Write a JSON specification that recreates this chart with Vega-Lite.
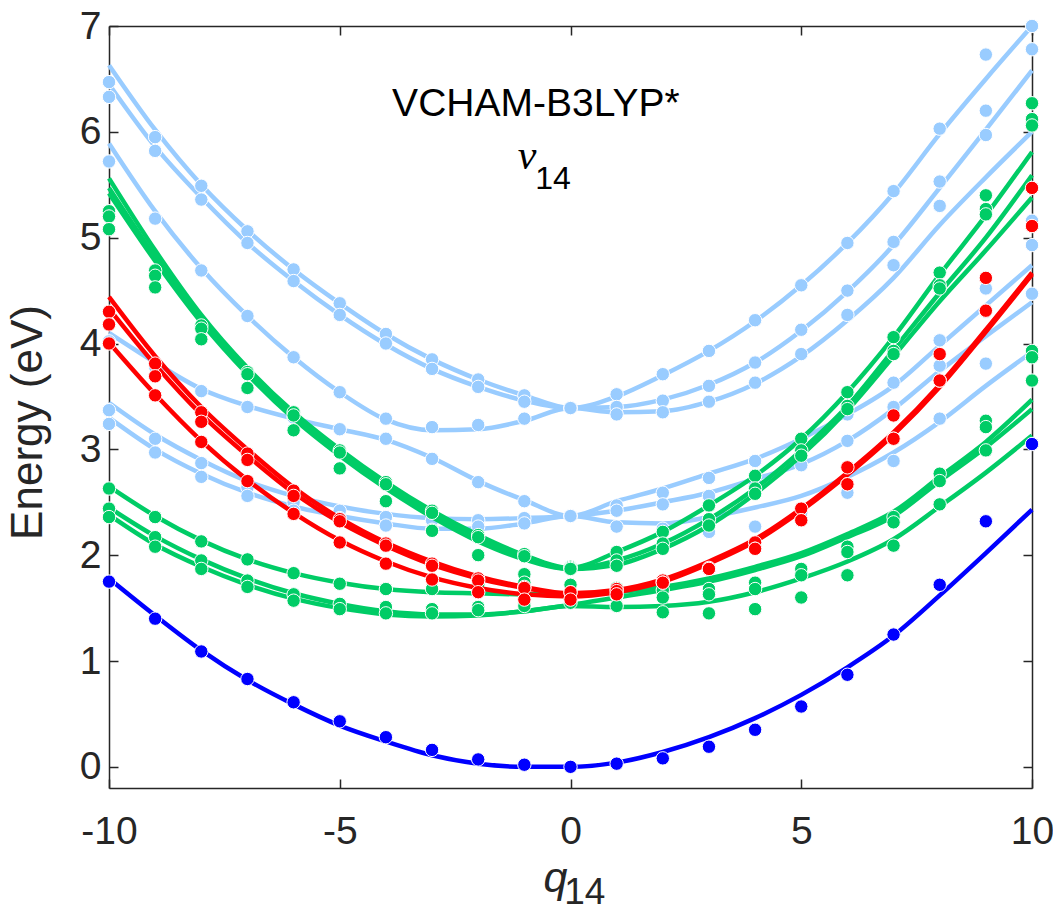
{
"$schema":"https://vega.github.io/schema/vega-lite/v6.json",
"width":923,"height":762,"autosize":"none",
"padding":{"left":109,"top":26,"right":21,"bottom":125},
"background":"white",
"config":{"view":{"stroke":null},"font":"Liberation Sans"},
"datasets":{
"L":[
{"c":"B1","q":-10,"e":6.63},{"c":"B1","q":-9,"e":6.02},{"c":"B1","q":-8,"e":5.50},{"c":"B1","q":-7,"e":5.07},{"c":"B1","q":-6,"e":4.70},{"c":"B1","q":-5,"e":4.38},{"c":"B1","q":-4,"e":4.09},{"c":"B1","q":-3,"e":3.85},{"c":"B1","q":-2,"e":3.66},{"c":"B1","q":-1,"e":3.51},{"c":"B1","q":0,"e":3.39},{"c":"B1","q":1,"e":3.50},{"c":"B1","q":2,"e":3.70},{"c":"B1","q":3,"e":3.93},{"c":"B1","q":4,"e":4.21},{"c":"B1","q":5,"e":4.55},{"c":"B1","q":6,"e":4.95},{"c":"B1","q":7,"e":5.42},{"c":"B1","q":8,"e":5.98},{"c":"B1","q":9,"e":6.50},{"c":"B1","q":10,"e":7.00},
{"c":"B2","q":-10,"e":6.45},{"c":"B2","q":-9,"e":5.86},{"c":"B2","q":-8,"e":5.38},{"c":"B2","q":-7,"e":4.95},{"c":"B2","q":-6,"e":4.59},{"c":"B2","q":-5,"e":4.27},{"c":"B2","q":-4,"e":3.99},{"c":"B2","q":-3,"e":3.76},{"c":"B2","q":-2,"e":3.59},{"c":"B2","q":-1,"e":3.46},{"c":"B2","q":0,"e":3.39},{"c":"B2","q":1,"e":3.40},{"c":"B2","q":2,"e":3.47},{"c":"B2","q":3,"e":3.61},{"c":"B2","q":4,"e":3.82},{"c":"B2","q":5,"e":4.12},{"c":"B2","q":6,"e":4.49},{"c":"B2","q":7,"e":4.93},{"c":"B2","q":8,"e":5.47},{"c":"B2","q":9,"e":6.02},{"c":"B2","q":10,"e":6.58},
{"c":"B3","q":-10,"e":5.89},{"c":"B3","q":-9,"e":5.25},{"c":"B3","q":-8,"e":4.71},{"c":"B3","q":-7,"e":4.26},{"c":"B3","q":-6,"e":3.87},{"c":"B3","q":-5,"e":3.54},{"c":"B3","q":-4,"e":3.28},{"c":"B3","q":-3,"e":3.18},{"c":"B3","q":-2,"e":3.19},{"c":"B3","q":-1,"e":3.27},{"c":"B3","q":0,"e":3.39},{"c":"B3","q":1,"e":3.35},{"c":"B3","q":2,"e":3.36},{"c":"B3","q":3,"e":3.45},{"c":"B3","q":4,"e":3.62},{"c":"B3","q":5,"e":3.88},{"c":"B3","q":6,"e":4.22},{"c":"B3","q":7,"e":4.62},{"c":"B3","q":8,"e":5.12},{"c":"B3","q":9,"e":5.57},{"c":"B3","q":10,"e":6.00},
{"c":"B4","q":-10,"e":4.10},{"c":"B4","q":-9,"e":3.82},{"c":"B4","q":-8,"e":3.57},{"c":"B4","q":-7,"e":3.41},{"c":"B4","q":-6,"e":3.29},{"c":"B4","q":-5,"e":3.19},{"c":"B4","q":-4,"e":3.09},{"c":"B4","q":-3,"e":2.92},{"c":"B4","q":-2,"e":2.70},{"c":"B4","q":-1,"e":2.52},{"c":"B4","q":0,"e":2.37},{"c":"B4","q":1,"e":2.51},{"c":"B4","q":2,"e":2.63},{"c":"B4","q":3,"e":2.77},{"c":"B4","q":4,"e":2.91},{"c":"B4","q":5,"e":3.10},{"c":"B4","q":6,"e":3.33},{"c":"B4","q":7,"e":3.60},{"c":"B4","q":8,"e":3.98},{"c":"B4","q":9,"e":4.36},{"c":"B4","q":10,"e":4.74},
{"c":"B5","q":-10,"e":3.44},{"c":"B5","q":-9,"e":3.14},{"c":"B5","q":-8,"e":2.90},{"c":"B5","q":-7,"e":2.70},{"c":"B5","q":-6,"e":2.56},{"c":"B5","q":-5,"e":2.46},{"c":"B5","q":-4,"e":2.39},{"c":"B5","q":-3,"e":2.35},{"c":"B5","q":-2,"e":2.34},{"c":"B5","q":-1,"e":2.35},{"c":"B5","q":0,"e":2.37},{"c":"B5","q":1,"e":2.42},{"c":"B5","q":2,"e":2.50},{"c":"B5","q":3,"e":2.59},{"c":"B5","q":4,"e":2.72},{"c":"B5","q":5,"e":2.86},{"c":"B5","q":6,"e":3.08},{"c":"B5","q":7,"e":3.38},{"c":"B5","q":8,"e":3.74},{"c":"B5","q":9,"e":4.07},{"c":"B5","q":10,"e":4.39},
{"c":"B6","q":-10,"e":3.30},{"c":"B6","q":-9,"e":3.00},{"c":"B6","q":-8,"e":2.77},{"c":"B6","q":-7,"e":2.59},{"c":"B6","q":-6,"e":2.46},{"c":"B6","q":-5,"e":2.37},{"c":"B6","q":-4,"e":2.30},{"c":"B6","q":-3,"e":2.25},{"c":"B6","q":-2,"e":2.25},{"c":"B6","q":-1,"e":2.30},{"c":"B6","q":0,"e":2.37},{"c":"B6","q":1,"e":2.31},{"c":"B6","q":2,"e":2.30},{"c":"B6","q":3,"e":2.36},{"c":"B6","q":4,"e":2.45},{"c":"B6","q":5,"e":2.56},{"c":"B6","q":6,"e":2.74},{"c":"B6","q":7,"e":2.97},{"c":"B6","q":8,"e":3.26},{"c":"B6","q":9,"e":3.60},{"c":"B6","q":10,"e":3.92},
{"c":"G1","q":-10,"e":5.56},{"c":"G1","q":-9,"e":4.88},{"c":"G1","q":-8,"e":4.27},{"c":"G1","q":-7,"e":3.77},{"c":"G1","q":-6,"e":3.35},{"c":"G1","q":-5,"e":3.00},{"c":"G1","q":-4,"e":2.69},{"c":"G1","q":-3,"e":2.42},{"c":"G1","q":-2,"e":2.19},{"c":"G1","q":-1,"e":2.00},{"c":"G1","q":0,"e":1.88},{"c":"G1","q":1,"e":2.03},{"c":"G1","q":2,"e":2.22},{"c":"G1","q":3,"e":2.47},{"c":"G1","q":4,"e":2.75},{"c":"G1","q":5,"e":3.10},{"c":"G1","q":6,"e":3.54},{"c":"G1","q":7,"e":4.06},{"c":"G1","q":8,"e":4.65},{"c":"G1","q":9,"e":5.21},{"c":"G1","q":10,"e":5.81},
{"c":"G2","q":-10,"e":5.47},{"c":"G2","q":-9,"e":4.82},{"c":"G2","q":-8,"e":4.23},{"c":"G2","q":-7,"e":3.74},{"c":"G2","q":-6,"e":3.32},{"c":"G2","q":-5,"e":2.98},{"c":"G2","q":-4,"e":2.67},{"c":"G2","q":-3,"e":2.40},{"c":"G2","q":-2,"e":2.17},{"c":"G2","q":-1,"e":1.99},{"c":"G2","q":0,"e":1.87},{"c":"G2","q":1,"e":1.95},{"c":"G2","q":2,"e":2.11},{"c":"G2","q":3,"e":2.34},{"c":"G2","q":4,"e":2.63},{"c":"G2","q":5,"e":2.99},{"c":"G2","q":6,"e":3.41},{"c":"G2","q":7,"e":3.94},{"c":"G2","q":8,"e":4.48},{"c":"G2","q":9,"e":5.00},{"c":"G2","q":10,"e":5.59},
{"c":"G3","q":-10,"e":5.42},{"c":"G3","q":-9,"e":4.78},{"c":"G3","q":-8,"e":4.20},{"c":"G3","q":-7,"e":3.71},{"c":"G3","q":-6,"e":3.29},{"c":"G3","q":-5,"e":2.94},{"c":"G3","q":-4,"e":2.63},{"c":"G3","q":-3,"e":2.36},{"c":"G3","q":-2,"e":2.13},{"c":"G3","q":-1,"e":1.96},{"c":"G3","q":0,"e":1.87},{"c":"G3","q":1,"e":1.91},{"c":"G3","q":2,"e":2.06},{"c":"G3","q":3,"e":2.28},{"c":"G3","q":4,"e":2.58},{"c":"G3","q":5,"e":2.94},{"c":"G3","q":6,"e":3.37},{"c":"G3","q":7,"e":3.88},{"c":"G3","q":8,"e":4.40},{"c":"G3","q":9,"e":4.88},{"c":"G3","q":10,"e":5.38},
{"c":"L1","q":-10,"e":2.65},{"c":"L1","q":-9,"e":2.37},{"c":"L1","q":-8,"e":2.14},{"c":"L1","q":-7,"e":1.96},{"c":"L1","q":-6,"e":1.83},{"c":"L1","q":-5,"e":1.74},{"c":"L1","q":-4,"e":1.68},{"c":"L1","q":-3,"e":1.65},{"c":"L1","q":-2,"e":1.64},{"c":"L1","q":-1,"e":1.63},{"c":"L1","q":0,"e":1.63},{"c":"L1","q":1,"e":1.65},{"c":"L1","q":2,"e":1.70},{"c":"L1","q":3,"e":1.78},{"c":"L1","q":4,"e":1.89},{"c":"L1","q":5,"e":2.02},{"c":"L1","q":6,"e":2.20},{"c":"L1","q":7,"e":2.41},{"c":"L1","q":8,"e":2.74},{"c":"L1","q":9,"e":3.07},{"c":"L1","q":10,"e":3.47},
{"c":"L2","q":-10,"e":2.45},{"c":"L2","q":-9,"e":2.18},{"c":"L2","q":-8,"e":1.96},{"c":"L2","q":-7,"e":1.78},{"c":"L2","q":-6,"e":1.64},{"c":"L2","q":-5,"e":1.54},{"c":"L2","q":-4,"e":1.47},{"c":"L2","q":-3,"e":1.44},{"c":"L2","q":-2,"e":1.44},{"c":"L2","q":-1,"e":1.47},{"c":"L2","q":0,"e":1.53},{"c":"L2","q":1,"e":1.60},{"c":"L2","q":2,"e":1.67},{"c":"L2","q":3,"e":1.75},{"c":"L2","q":4,"e":1.86},{"c":"L2","q":5,"e":1.99},{"c":"L2","q":6,"e":2.17},{"c":"L2","q":7,"e":2.37},{"c":"L2","q":8,"e":2.70},{"c":"L2","q":9,"e":3.02},{"c":"L2","q":10,"e":3.38},
{"c":"L3","q":-10,"e":2.38},{"c":"L3","q":-9,"e":2.10},{"c":"L3","q":-8,"e":1.89},{"c":"L3","q":-7,"e":1.72},{"c":"L3","q":-6,"e":1.59},{"c":"L3","q":-5,"e":1.50},{"c":"L3","q":-4,"e":1.44},{"c":"L3","q":-3,"e":1.42},{"c":"L3","q":-2,"e":1.43},{"c":"L3","q":-1,"e":1.47},{"c":"L3","q":0,"e":1.52},{"c":"L3","q":1,"e":1.51},{"c":"L3","q":2,"e":1.52},{"c":"L3","q":3,"e":1.56},{"c":"L3","q":4,"e":1.65},{"c":"L3","q":5,"e":1.78},{"c":"L3","q":6,"e":1.94},{"c":"L3","q":7,"e":2.15},{"c":"L3","q":8,"e":2.46},{"c":"L3","q":9,"e":2.78},{"c":"L3","q":10,"e":3.13},
{"c":"R1","q":-10,"e":4.44},{"c":"R1","q":-9,"e":3.88},{"c":"R1","q":-8,"e":3.40},{"c":"R1","q":-7,"e":3.00},{"c":"R1","q":-6,"e":2.64},{"c":"R1","q":-5,"e":2.35},{"c":"R1","q":-4,"e":2.12},{"c":"R1","q":-3,"e":1.94},{"c":"R1","q":-2,"e":1.80},{"c":"R1","q":-1,"e":1.70},{"c":"R1","q":0,"e":1.64},{"c":"R1","q":1,"e":1.67},{"c":"R1","q":2,"e":1.77},{"c":"R1","q":3,"e":1.94},{"c":"R1","q":4,"e":2.15},{"c":"R1","q":5,"e":2.44},{"c":"R1","q":6,"e":2.78},{"c":"R1","q":7,"e":3.16},{"c":"R1","q":8,"e":3.61},{"c":"R1","q":9,"e":4.13},{"c":"R1","q":10,"e":4.67},
{"c":"R2","q":-10,"e":4.33},{"c":"R2","q":-9,"e":3.80},{"c":"R2","q":-8,"e":3.33},{"c":"R2","q":-7,"e":2.94},{"c":"R2","q":-6,"e":2.59},{"c":"R2","q":-5,"e":2.31},{"c":"R2","q":-4,"e":2.09},{"c":"R2","q":-3,"e":1.91},{"c":"R2","q":-2,"e":1.78},{"c":"R2","q":-1,"e":1.69},{"c":"R2","q":0,"e":1.63},{"c":"R2","q":1,"e":1.66},{"c":"R2","q":2,"e":1.76},{"c":"R2","q":3,"e":1.93},{"c":"R2","q":4,"e":2.14},{"c":"R2","q":5,"e":2.43},{"c":"R2","q":6,"e":2.77},{"c":"R2","q":7,"e":3.15},{"c":"R2","q":8,"e":3.60},{"c":"R2","q":9,"e":4.12},{"c":"R2","q":10,"e":4.66},
{"c":"R3","q":-10,"e":4.01},{"c":"R3","q":-9,"e":3.52},{"c":"R3","q":-8,"e":3.08},{"c":"R3","q":-7,"e":2.71},{"c":"R3","q":-6,"e":2.40},{"c":"R3","q":-5,"e":2.14},{"c":"R3","q":-4,"e":1.94},{"c":"R3","q":-3,"e":1.79},{"c":"R3","q":-2,"e":1.69},{"c":"R3","q":-1,"e":1.63},{"c":"R3","q":0,"e":1.61},{"c":"R3","q":1,"e":1.65},{"c":"R3","q":2,"e":1.75},{"c":"R3","q":3,"e":1.92},{"c":"R3","q":4,"e":2.13},{"c":"R3","q":5,"e":2.42},{"c":"R3","q":6,"e":2.76},{"c":"R3","q":7,"e":3.14},{"c":"R3","q":8,"e":3.59},{"c":"R3","q":9,"e":4.11},{"c":"R3","q":10,"e":4.65},
{"c":"K","q":-10,"e":1.78},{"c":"K","q":-9,"e":1.43},{"c":"K","q":-8,"e":1.10},{"c":"K","q":-7,"e":0.82},{"c":"K","q":-6,"e":0.59},{"c":"K","q":-5,"e":0.39},{"c":"K","q":-4,"e":0.24},{"c":"K","q":-3,"e":0.11},{"c":"K","q":-2,"e":0.03},{"c":"K","q":-1,"e":0.00},{"c":"K","q":0,"e":0.00},{"c":"K","q":1,"e":0.04},{"c":"K","q":2,"e":0.14},{"c":"K","q":3,"e":0.28},{"c":"K","q":4,"e":0.46},{"c":"K","q":5,"e":0.68},{"c":"K","q":6,"e":0.94},{"c":"K","q":7,"e":1.24},{"c":"K","q":8,"e":1.62},{"c":"K","q":9,"e":2.02},{"c":"K","q":10,"e":2.43}
],
"P":[
{"c":"pa","q":-10,"e":6.47},{"c":"pa","q":-9,"e":5.95},{"c":"pa","q":-8,"e":5.49},{"c":"pa","q":-7,"e":5.06},{"c":"pa","q":-6,"e":4.70},{"c":"pa","q":-5,"e":4.38},{"c":"pa","q":-4,"e":4.09},{"c":"pa","q":-3,"e":3.85},{"c":"pa","q":-2,"e":3.66},{"c":"pa","q":-1,"e":3.51},{"c":"pa","q":0,"e":3.39},{"c":"pa","q":1,"e":3.52},{"c":"pa","q":2,"e":3.71},{"c":"pa","q":3,"e":3.93},{"c":"pa","q":4,"e":4.22},{"c":"pa","q":5,"e":4.55},{"c":"pa","q":6,"e":4.95},{"c":"pa","q":7,"e":5.44},{"c":"pa","q":8,"e":6.03},{"c":"pa","q":9,"e":6.73},
{"c":"pb","q":-10,"e":6.33},{"c":"pb","q":-9,"e":5.82},{"c":"pb","q":-8,"e":5.36},{"c":"pb","q":-7,"e":4.95},{"c":"pb","q":-6,"e":4.59},{"c":"pb","q":-5,"e":4.27},{"c":"pb","q":-4,"e":4.00},{"c":"pb","q":-3,"e":3.76},{"c":"pb","q":-2,"e":3.59},{"c":"pb","q":-1,"e":3.45},{"c":"pb","q":0,"e":3.39},{"c":"pb","q":1,"e":3.40},{"c":"pb","q":2,"e":3.46},{"c":"pb","q":3,"e":3.60},{"c":"pb","q":4,"e":3.82},{"c":"pb","q":5,"e":4.13},{"c":"pb","q":6,"e":4.50},{"c":"pb","q":7,"e":4.96},{"c":"pb","q":8,"e":5.53},{"c":"pb","q":9,"e":6.20},{"c":"pb","q":10,"e":7.00},
{"c":"pc","q":-10,"e":5.72},{"c":"pc","q":-9,"e":5.18},{"c":"pc","q":-8,"e":4.69},{"c":"pc","q":-7,"e":4.26},{"c":"pc","q":-6,"e":3.87},{"c":"pc","q":-5,"e":3.54},{"c":"pc","q":-4,"e":3.29},{"c":"pc","q":-3,"e":3.21},{"c":"pc","q":-2,"e":3.23},{"c":"pc","q":-1,"e":3.29},{"c":"pc","q":0,"e":3.39},{"c":"pc","q":1,"e":3.33},{"c":"pc","q":2,"e":3.35},{"c":"pc","q":3,"e":3.45},{"c":"pc","q":4,"e":3.63},{"c":"pc","q":5,"e":3.90},{"c":"pc","q":6,"e":4.27},{"c":"pc","q":7,"e":4.74},{"c":"pc","q":8,"e":5.30},{"c":"pc","q":9,"e":5.97},{"c":"pc","q":10,"e":6.78},
{"c":"pd","q":-10,"e":4.02},{"c":"pd","q":-9,"e":3.78},{"c":"pd","q":-8,"e":3.55},{"c":"pd","q":-7,"e":3.40},{"c":"pd","q":-6,"e":3.30},{"c":"pd","q":-5,"e":3.19},{"c":"pd","q":-4,"e":3.10},{"c":"pd","q":-3,"e":2.91},{"c":"pd","q":-2,"e":2.69},{"c":"pd","q":-1,"e":2.51},{"c":"pd","q":0,"e":2.37},{"c":"pd","q":1,"e":2.47},{"c":"pd","q":2,"e":2.59},{"c":"pd","q":3,"e":2.73},{"c":"pd","q":4,"e":2.89},{"c":"pd","q":5,"e":3.08},{"c":"pd","q":6,"e":3.33},{"c":"pd","q":7,"e":3.63},{"c":"pd","q":8,"e":4.03},{"c":"pd","q":9,"e":4.52},{"c":"pd","q":10,"e":5.16},
{"c":"pe","q":-10,"e":3.37},{"c":"pe","q":-9,"e":3.10},{"c":"pe","q":-8,"e":2.87},{"c":"pe","q":-7,"e":2.64},{"c":"pe","q":-6,"e":2.50},{"c":"pe","q":-5,"e":2.42},{"c":"pe","q":-4,"e":2.36},{"c":"pe","q":-3,"e":2.33},{"c":"pe","q":-2,"e":2.33},{"c":"pe","q":-1,"e":2.35},{"c":"pe","q":0,"e":2.37},{"c":"pe","q":1,"e":2.42},{"c":"pe","q":2,"e":2.48},{"c":"pe","q":3,"e":2.56},{"c":"pe","q":4,"e":2.68},{"c":"pe","q":5,"e":2.85},{"c":"pe","q":6,"e":3.08},{"c":"pe","q":7,"e":3.40},{"c":"pe","q":8,"e":3.79},{"c":"pe","q":9,"e":4.30},{"c":"pe","q":10,"e":4.93},
{"c":"pf","q":-10,"e":3.24},{"c":"pf","q":-9,"e":2.97},{"c":"pf","q":-8,"e":2.74},{"c":"pf","q":-7,"e":2.56},{"c":"pf","q":-6,"e":2.42},{"c":"pf","q":-5,"e":2.35},{"c":"pf","q":-4,"e":2.28},{"c":"pf","q":-3,"e":2.24},{"c":"pf","q":-2,"e":2.27},{"c":"pf","q":-1,"e":2.30},{"c":"pf","q":0,"e":2.37},{"c":"pf","q":1,"e":2.27},{"c":"pf","q":2,"e":2.25},{"c":"pf","q":3,"e":2.22},{"c":"pf","q":4,"e":2.27},{"c":"pf","q":5,"e":2.40},{"c":"pf","q":6,"e":2.59},{"c":"pf","q":7,"e":2.89},{"c":"pf","q":8,"e":3.29},{"c":"pf","q":9,"e":3.81},{"c":"pf","q":10,"e":4.47},
{"c":"pg1","q":-10,"e":5.25},{"c":"pg1","q":-9,"e":4.69},{"c":"pg1","q":-8,"e":4.17},{"c":"pg1","q":-7,"e":3.73},{"c":"pg1","q":-6,"e":3.35},{"c":"pg1","q":-5,"e":2.99},{"c":"pg1","q":-4,"e":2.69},{"c":"pg1","q":-3,"e":2.42},{"c":"pg1","q":-2,"e":2.19},{"c":"pg1","q":-1,"e":2.01},{"c":"pg1","q":0,"e":1.89},{"c":"pg1","q":1,"e":2.03},{"c":"pg1","q":2,"e":2.22},{"c":"pg1","q":3,"e":2.47},{"c":"pg1","q":4,"e":2.75},{"c":"pg1","q":5,"e":3.10},{"c":"pg1","q":6,"e":3.54},{"c":"pg1","q":7,"e":4.06},{"c":"pg1","q":8,"e":4.67},{"c":"pg1","q":9,"e":5.40},{"c":"pg1","q":10,"e":6.27},
{"c":"pg2","q":-10,"e":5.20},{"c":"pg2","q":-9,"e":4.64},{"c":"pg2","q":-8,"e":4.14},{"c":"pg2","q":-7,"e":3.71},{"c":"pg2","q":-6,"e":3.32},{"c":"pg2","q":-5,"e":2.97},{"c":"pg2","q":-4,"e":2.67},{"c":"pg2","q":-3,"e":2.40},{"c":"pg2","q":-2,"e":2.17},{"c":"pg2","q":-1,"e":1.99},{"c":"pg2","q":0,"e":1.88},{"c":"pg2","q":1,"e":1.95},{"c":"pg2","q":2,"e":2.11},{"c":"pg2","q":3,"e":2.34},{"c":"pg2","q":4,"e":2.63},{"c":"pg2","q":5,"e":2.99},{"c":"pg2","q":6,"e":3.41},{"c":"pg2","q":7,"e":3.93},{"c":"pg2","q":8,"e":4.55},{"c":"pg2","q":9,"e":5.27},{"c":"pg2","q":10,"e":6.12},
{"c":"pg3","q":-10,"e":5.08},{"c":"pg3","q":-9,"e":4.53},{"c":"pg3","q":-8,"e":4.04},{"c":"pg3","q":-7,"e":3.58},{"c":"pg3","q":-6,"e":3.18},{"c":"pg3","q":-5,"e":2.82},{"c":"pg3","q":-4,"e":2.51},{"c":"pg3","q":-3,"e":2.23},{"c":"pg3","q":-2,"e":2.00},{"c":"pg3","q":-1,"e":1.82},{"c":"pg3","q":0,"e":1.87},{"c":"pg3","q":1,"e":1.90},{"c":"pg3","q":2,"e":2.06},{"c":"pg3","q":3,"e":2.28},{"c":"pg3","q":4,"e":2.58},{"c":"pg3","q":5,"e":2.94},{"c":"pg3","q":6,"e":3.38},{"c":"pg3","q":7,"e":3.90},{"c":"pg3","q":8,"e":4.52},{"c":"pg3","q":9,"e":5.22},{"c":"pg3","q":10,"e":6.06},
{"c":"pl1","q":-10,"e":2.63},{"c":"pl1","q":-9,"e":2.36},{"c":"pl1","q":-8,"e":2.13},{"c":"pl1","q":-7,"e":1.96},{"c":"pl1","q":-6,"e":1.83},{"c":"pl1","q":-5,"e":1.73},{"c":"pl1","q":-4,"e":1.68},{"c":"pl1","q":-3,"e":1.68},{"c":"pl1","q":-2,"e":1.72},{"c":"pl1","q":-1,"e":1.74},{"c":"pl1","q":0,"e":1.72},{"c":"pl1","q":1,"e":1.69},{"c":"pl1","q":2,"e":1.67},{"c":"pl1","q":3,"e":1.68},{"c":"pl1","q":4,"e":1.74},{"c":"pl1","q":5,"e":1.87},{"c":"pl1","q":6,"e":2.08},{"c":"pl1","q":7,"e":2.36},{"c":"pl1","q":8,"e":2.77},{"c":"pl1","q":9,"e":3.27},{"c":"pl1","q":10,"e":3.93},
{"c":"pl2","q":-10,"e":2.44},{"c":"pl2","q":-9,"e":2.17},{"c":"pl2","q":-8,"e":1.95},{"c":"pl2","q":-7,"e":1.76},{"c":"pl2","q":-6,"e":1.63},{"c":"pl2","q":-5,"e":1.54},{"c":"pl2","q":-4,"e":1.51},{"c":"pl2","q":-3,"e":1.49},{"c":"pl2","q":-2,"e":1.51},{"c":"pl2","q":-1,"e":1.54},{"c":"pl2","q":0,"e":1.58},{"c":"pl2","q":1,"e":1.62},{"c":"pl2","q":2,"e":1.60},{"c":"pl2","q":3,"e":1.63},{"c":"pl2","q":4,"e":1.68},{"c":"pl2","q":5,"e":1.81},{"c":"pl2","q":6,"e":2.03},{"c":"pl2","q":7,"e":2.31},{"c":"pl2","q":8,"e":2.70},{"c":"pl2","q":9,"e":3.21},{"c":"pl2","q":10,"e":3.87},
{"c":"pl3","q":-10,"e":2.36},{"c":"pl3","q":-9,"e":2.08},{"c":"pl3","q":-8,"e":1.87},{"c":"pl3","q":-7,"e":1.70},{"c":"pl3","q":-6,"e":1.57},{"c":"pl3","q":-5,"e":1.49},{"c":"pl3","q":-4,"e":1.45},{"c":"pl3","q":-3,"e":1.45},{"c":"pl3","q":-2,"e":1.48},{"c":"pl3","q":-1,"e":1.52},{"c":"pl3","q":0,"e":1.55},{"c":"pl3","q":1,"e":1.52},{"c":"pl3","q":2,"e":1.46},{"c":"pl3","q":3,"e":1.45},{"c":"pl3","q":4,"e":1.49},{"c":"pl3","q":5,"e":1.60},{"c":"pl3","q":6,"e":1.81},{"c":"pl3","q":7,"e":2.09},{"c":"pl3","q":8,"e":2.48},{"c":"pl3","q":9,"e":2.99},{"c":"pl3","q":10,"e":3.65},
{"c":"pr1","q":-10,"e":4.30},{"c":"pr1","q":-9,"e":3.81},{"c":"pr1","q":-8,"e":3.35},{"c":"pr1","q":-7,"e":2.96},{"c":"pr1","q":-6,"e":2.61},{"c":"pr1","q":-5,"e":2.34},{"c":"pr1","q":-4,"e":2.11},{"c":"pr1","q":-3,"e":1.92},{"c":"pr1","q":-2,"e":1.78},{"c":"pr1","q":-1,"e":1.70},{"c":"pr1","q":0,"e":1.65},{"c":"pr1","q":1,"e":1.68},{"c":"pr1","q":2,"e":1.76},{"c":"pr1","q":3,"e":1.88},{"c":"pr1","q":4,"e":2.12},{"c":"pr1","q":5,"e":2.44},{"c":"pr1","q":6,"e":2.83},{"c":"pr1","q":7,"e":3.32},{"c":"pr1","q":8,"e":3.90},{"c":"pr1","q":9,"e":4.62},{"c":"pr1","q":10,"e":5.47},
{"c":"pr2","q":-10,"e":4.18},{"c":"pr2","q":-9,"e":3.69},{"c":"pr2","q":-8,"e":3.26},{"c":"pr2","q":-7,"e":2.90},{"c":"pr2","q":-6,"e":2.56},{"c":"pr2","q":-5,"e":2.32},{"c":"pr2","q":-4,"e":2.09},{"c":"pr2","q":-3,"e":1.90},{"c":"pr2","q":-2,"e":1.76},{"c":"pr2","q":-1,"e":1.69},{"c":"pr2","q":0,"e":1.65},{"c":"pr2","q":1,"e":1.66},{"c":"pr2","q":2,"e":1.74},{"c":"pr2","q":3,"e":1.87},{"c":"pr2","q":4,"e":2.06},{"c":"pr2","q":5,"e":2.33},{"c":"pr2","q":6,"e":2.67},{"c":"pr2","q":7,"e":3.10},{"c":"pr2","q":8,"e":3.65},{"c":"pr2","q":9,"e":4.31},{"c":"pr2","q":10,"e":5.11},
{"c":"pr3","q":-10,"e":4.00},{"c":"pr3","q":-9,"e":3.51},{"c":"pr3","q":-8,"e":3.07},{"c":"pr3","q":-7,"e":2.70},{"c":"pr3","q":-6,"e":2.39},{"c":"pr3","q":-5,"e":2.12},{"c":"pr3","q":-4,"e":1.92},{"c":"pr3","q":-3,"e":1.77},{"c":"pr3","q":-2,"e":1.65},{"c":"pr3","q":-1,"e":1.58},{"c":"pr3","q":0,"e":1.58},{"c":"pr3","q":1,"e":1.63},{"c":"pr3","q":2,"e":1.74},{"c":"pr3","q":3,"e":1.87},{"c":"pr3","q":4,"e":2.06},{"c":"pr3","q":5,"e":2.33},{"c":"pr3","q":6,"e":2.67},{"c":"pr3","q":7,"e":3.10},{"c":"pr3","q":8,"e":3.65},{"c":"pr3","q":9,"e":4.31},{"c":"pr3","q":10,"e":5.11},
{"c":"pk","q":-10,"e":1.75},{"c":"pk","q":-9,"e":1.40},{"c":"pk","q":-8,"e":1.09},{"c":"pk","q":-7,"e":0.83},{"c":"pk","q":-6,"e":0.61},{"c":"pk","q":-5,"e":0.43},{"c":"pk","q":-4,"e":0.28},{"c":"pk","q":-3,"e":0.16},{"c":"pk","q":-2,"e":0.07},{"c":"pk","q":-1,"e":0.02},{"c":"pk","q":0,"e":0.00},{"c":"pk","q":1,"e":0.03},{"c":"pk","q":2,"e":0.08},{"c":"pk","q":3,"e":0.19},{"c":"pk","q":4,"e":0.35},{"c":"pk","q":5,"e":0.57},{"c":"pk","q":6,"e":0.87},{"c":"pk","q":7,"e":1.25},{"c":"pk","q":8,"e":1.72},{"c":"pk","q":9,"e":2.32},{"c":"pk","q":10,"e":3.05}
]
},
"layer":[
{"data":{"name":"L"},"transform":[{"filter":{"field":"c","oneOf":["B1","B2","B3","B4","B5","B6"]}}],
 "mark":{"type":"line","color":"#99CCFF","strokeWidth":4.5,"interpolate":"monotone"},
 "encoding":{
  "x":{"field":"q","type":"quantitative","scale":{"domain":[-10,10],"nice":false,"zero":false},
   "axis":{"orient":"bottom","values":[-10,-5,0,5,10],"labelExpr":"'' + datum.value","tickSize":-9,"tickColor":"#262626","tickWidth":1.5,"domainColor":"#262626","domainWidth":1.5,"labelFontSize":39,"labelColor":"#262626","labelFont":"Liberation Sans","labelPadding":33,"labelFlush":false,"labelOverlap":false,"grid":false,"title":"q","titleFont":"Liberation Sans","titleFontSize":43,"titleFontStyle":"italic","titleFontWeight":"normal","titleColor":"#262626","titleX":446,"titleY":103,"titleBaseline":"alphabetic","titleAlign":"center"}},
  "y":{"field":"e","type":"quantitative","scale":{"domain":[-0.2,7],"nice":false,"zero":false},
   "axis":{"orient":"left","values":[0,1,2,3,4,5,6,7],"tickSize":-9,"tickColor":"#262626","tickWidth":1.5,"domainColor":"#262626","domainWidth":1.5,"labelFontSize":39,"labelColor":"#262626","labelFont":"Liberation Sans","labelPadding":17,"labelFlush":false,"labelOverlap":false,"grid":false,"title":"Energy (eV)","titleFont":"Liberation Sans","titleFontSize":44,"titleFontWeight":"normal","titleColor":"#262626","titleAngle":270,"titleX":-68,"titleY":396,"titleBaseline":"alphabetic","titleAlign":"center"}},
  "detail":{"field":"c"}}},
{"data":{"name":"P"},"transform":[{"filter":{"field":"c","oneOf":["pa","pb","pc","pd","pe","pf"]}}],
 "mark":{"type":"circle","size":180,"fill":"#99CCFF","stroke":"white","strokeWidth":1,"opacity":1},
 "encoding":{"x":{"field":"q","type":"quantitative","axis":null},"y":{"field":"e","type":"quantitative","axis":null}}},
{"data":{"name":"L"},"transform":[{"filter":{"field":"c","oneOf":["G1","G2","G3","L1","L2","L3"]}}],
 "mark":{"type":"line","color":"#00CC66","strokeWidth":4.5,"interpolate":"monotone"},
 "encoding":{"x":{"field":"q","type":"quantitative","axis":null},"y":{"field":"e","type":"quantitative","axis":null},"detail":{"field":"c"}}},
{"data":{"name":"P"},"transform":[{"filter":{"field":"c","oneOf":["pg1","pg2","pg3","pl1","pl2","pl3"]}}],
 "mark":{"type":"circle","size":180,"fill":"#00CC66","stroke":"white","strokeWidth":1,"opacity":1},
 "encoding":{"x":{"field":"q","type":"quantitative","axis":null},"y":{"field":"e","type":"quantitative","axis":null}}},
{"data":{"name":"L"},"transform":[{"filter":{"field":"c","oneOf":["R1","R2","R3"]}}],
 "mark":{"type":"line","color":"#FF0000","strokeWidth":4.5,"interpolate":"monotone"},
 "encoding":{"x":{"field":"q","type":"quantitative","axis":null},"y":{"field":"e","type":"quantitative","axis":null},"detail":{"field":"c"}}},
{"data":{"name":"P"},"transform":[{"filter":{"field":"c","oneOf":["pr1","pr2","pr3"]}}],
 "mark":{"type":"circle","size":180,"fill":"#FF0000","stroke":"white","strokeWidth":1,"opacity":1},
 "encoding":{"x":{"field":"q","type":"quantitative","axis":null},"y":{"field":"e","type":"quantitative","axis":null}}},
{"data":{"name":"L"},"transform":[{"filter":{"field":"c","oneOf":["K"]}}],
 "mark":{"type":"line","color":"#0000FF","strokeWidth":4.5,"interpolate":"monotone"},
 "encoding":{"x":{"field":"q","type":"quantitative","axis":null},"y":{"field":"e","type":"quantitative","axis":null},"detail":{"field":"c"}}},
{"data":{"name":"P"},"transform":[{"filter":{"field":"c","oneOf":["pk"]}}],
 "mark":{"type":"circle","size":180,"fill":"#0000FF","stroke":"white","strokeWidth":1,"opacity":1},
 "encoding":{
  "x":{"field":"q","type":"quantitative","axis":{"orient":"top","values":[-10,-5,0,5,10],"labels":false,"title":null,"tickSize":-9,"tickColor":"#262626","tickWidth":1.5,"domainColor":"#262626","domainWidth":1.5,"grid":false}},
  "y":{"field":"e","type":"quantitative","axis":{"orient":"right","values":[0,1,2,3,4,5,6,7],"labels":false,"title":null,"tickSize":-9,"tickColor":"#262626","tickWidth":1.5,"domainColor":"#262626","domainWidth":1.5,"grid":false}}}},
{"data":{"values":[{"q":-0.75,"e":6.15,"t":"VCHAM-B3LYP*"}]},
 "mark":{"type":"text","font":"Liberation Sans","fontSize":39,"color":"#000000","align":"center","baseline":"alphabetic"},
 "encoding":{"x":{"field":"q","type":"quantitative","axis":null},"y":{"field":"e","type":"quantitative","axis":null},"text":{"field":"t"}}},
{"data":{"values":[{"q":-0.94,"e":5.65,"t":"ν"}]},
 "mark":{"type":"text","font":"Liberation Serif","fontStyle":"italic","fontSize":42,"color":"#000000","align":"center","baseline":"alphabetic"},
 "encoding":{"x":{"field":"q","type":"quantitative","axis":null},"y":{"field":"e","type":"quantitative","axis":null},"text":{"field":"t"}}},
{"data":{"values":[{"q":-0.38,"e":5.46,"t":"14"}]},
 "mark":{"type":"text","font":"Liberation Sans","fontSize":32,"color":"#000000","align":"center","baseline":"alphabetic"},
 "encoding":{"x":{"field":"q","type":"quantitative","axis":null},"y":{"field":"e","type":"quantitative","axis":null},"text":{"field":"t"}}},
{"data":{"values":[{"q":0.31,"e":-1.30,"t":"14"}]},
 "mark":{"type":"text","font":"Liberation Sans","fontSize":37,"color":"#262626","align":"center","baseline":"alphabetic"},
 "encoding":{"x":{"field":"q","type":"quantitative","axis":null},"y":{"field":"e","type":"quantitative","axis":null},"text":{"field":"t"}}}
],
"resolve":{"axis":{"x":"independent","y":"independent"}}
}
